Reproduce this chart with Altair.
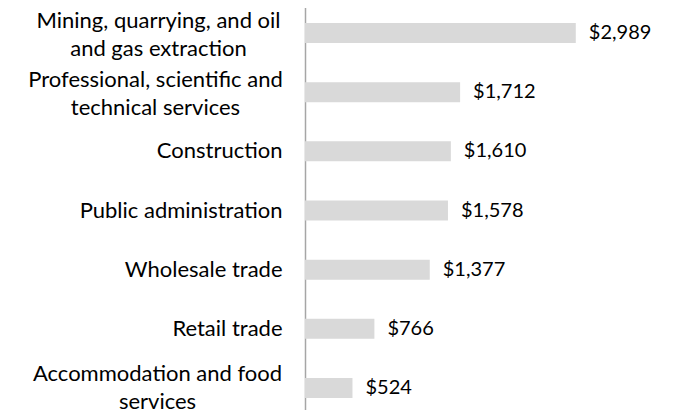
import altair as alt
import pandas as pd

categories = [
    "Mining, quarrying, and oil|and gas extraction",
    "Professional, scientific and|technical services",
    "Construction",
    "Public administration",
    "Wholesale trade",
    "Retail trade",
    "Accommodation and food|services",
]
values = [2989, 1712, 1610, 1578, 1377, 766, 524]

df = pd.DataFrame({"industry": categories, "earnings": values})

FONT = "Lato"
FS = 22

label_pad = {
    "condition": [
        {"test": "indexof(datum.value, 'Mining') >= 0", "value": 147},
        {"test": "indexof(datum.value, 'Professional') >= 0", "value": 150},
        {"test": "indexof(datum.value, 'Accommodation') >= 0", "value": 148},
    ],
    "value": 23,
}
label_align = {
    "condition": {"test": "indexof(datum.value, '|') >= 0", "value": "center"},
    "value": "right",
}
label_offset = {
    "condition": [
        {"test": "indexof(datum.value, 'Accommodation') >= 0", "value": -14},
        {"test": "indexof(datum.value, '|') >= 0", "value": -12},
    ],
    "value": 0,
}

y_enc = alt.Y(
    "industry:N",
    sort=categories,
    title=None,
    scale=alt.Scale(paddingInner=0.662, paddingOuter=0.262, align=0.613),
    axis=alt.Axis(
        domain=True,
        domainColor="#a6a6a6",
        domainWidth=1.5,
        ticks=False,
        grid=False,
        labelExpr="split(datum.label, '|')",
        labelFont=FONT,
        labelFontSize=FS,
        labelColor="#000000",
        labelLineHeight=28,
        labelLimit=0,
        labelAlign=label_align,
        labelPadding=label_pad,
        labelOffset=label_offset,
    ),
)
x_enc = alt.X("earnings:Q", scale=alt.Scale(domain=[0, 4084]), axis=None)

base = alt.Chart(df).encode(y=y_enc, x=x_enc)

bars = base.mark_bar(color="#d9d9d9")
labels = base.mark_text(
    align="left", baseline="middle", dx=13, font=FONT, fontSize=20, color="#000000"
).encode(text=alt.Text("earnings:Q", format="$,.0f"))

chart = (
    alt.layer(bars, labels)
    .properties(
        width=370,
        height=406,
        autosize=alt.AutoSizeParams(type="none"),
        padding={"left": 297, "top": -4, "right": 0, "bottom": 4},
    )
    .configure_view(stroke=None)
    .configure(background="#ffffff")
)

chart.save("out.html", embed_options={"renderer": "svg", "actions": False})
